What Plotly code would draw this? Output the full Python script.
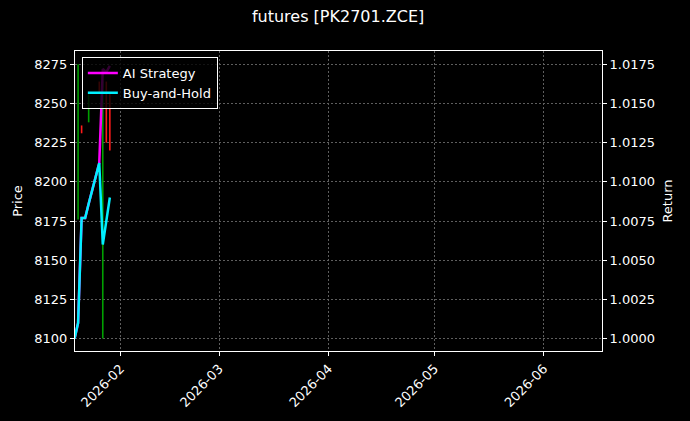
import plotly.graph_objects as go

# daily candles (only the bars visible in the chart)
CANDLE_DATES = ["2026-01-20", "2026-01-21", "2026-01-23", "2026-01-26",
                "2026-01-27", "2026-01-28", "2026-01-29"]
OPEN = [8178, 8235, 8240, 8263, 8105, 8262, 8252]
HIGH = [8275, 8236, 8256, 8264, 8264, 8264, 8256]
LOW = [8176, 8231, 8238, 8257, 8100, 8225, 8220]
CLOSE = [8270, 8232, 8250, 8258, 8262, 8232, 8228]

# cumulative return curves
RET_DATES = ["2026-01-19", "2026-01-20", "2026-01-21", "2026-01-22", "2026-01-23",
             "2026-01-26", "2026-01-27", "2026-01-28", "2026-01-29"]
AI_STRATEGY = [1.0000, 1.0010, 1.0077, 1.0077, 1.0086, 1.0112, 1.0172, 1.0170, 1.0174]
BUY_AND_HOLD = [1.0000, 1.0010, 1.0077, 1.0077, 1.0086, 1.0112, 1.0060, 1.0075, 1.0090]

PRICE_TICKS = [8100, 8125, 8150, 8175, 8200, 8225, 8250, 8275]
RETURN_TICKS = [1.0000, 1.0025, 1.0050, 1.0075, 1.0100, 1.0125, 1.0150, 1.0175]
X_TICKS = ["2026-02-01", "2026-03-01", "2026-04-01", "2026-05-01", "2026-06-01"]

FONT = "DejaVu Sans"
BG = "#000000"
GRID = "#5e5e5e"

fig = go.Figure()

# thin bars, like the very narrow candles of the original
fig.add_trace(go.Ohlc(
    x=CANDLE_DATES, open=OPEN, high=HIGH, low=LOW, close=CLOSE,
    increasing=dict(line=dict(color="#00a000", width=1.6)),
    decreasing=dict(line=dict(color="#ff1a1a", width=1.6)),
    tickwidth=0, showlegend=False, yaxis="y",
))

fig.add_trace(go.Scatter(
    x=RET_DATES, y=AI_STRATEGY, mode="lines", name="AI Strategy",
    line=dict(color="#ff00ff", width=2.5), yaxis="y2",
))
fig.add_trace(go.Scatter(
    x=RET_DATES, y=BUY_AND_HOLD, mode="lines", name="Buy-and-Hold",
    line=dict(color="#00f0ff", width=2.5), yaxis="y2",
))

fig.update_layout(
    width=690, height=421,
    margin=dict(l=75, r=88, t=51, b=70, autoexpand=False),
    paper_bgcolor=BG, plot_bgcolor=BG,
    font=dict(family=FONT, color="white", size=13),
    title=dict(text="futures [PK2701.ZCE]", x=0.49, xanchor="center",
               y=0.96, yanchor="middle", font=dict(size=16, color="white")),
    xaxis=dict(
        type="date", range=["2026-01-19 03:00", "2026-06-17 12:00"],
        tickvals=X_TICKS, tickformat="%Y-%m", tickangle=-45,
        ticks="outside", ticklen=4, tickcolor="white",
        showgrid=True, gridcolor=GRID, griddash="2px,2px", gridwidth=0.6,
        showline=True, linecolor="white", linewidth=1, mirror=True,
        rangeslider=dict(visible=False), zeroline=False,
    ),
    yaxis=dict(
        title=dict(text="Price", standoff=8, font=dict(size=13)),
        range=[8092.1, 8283.5],
        tickvals=PRICE_TICKS, ticks="outside", ticklen=4, tickcolor="white",
        showgrid=True, gridcolor=GRID, griddash="2px,2px", gridwidth=0.6,
        showline=True, linecolor="white", linewidth=1, mirror=True,
        zeroline=False,
    ),
    yaxis2=dict(
        title=dict(text="Return", standoff=8, font=dict(size=13)),
        range=[0.99921, 1.01835],
        overlaying="y", side="right", tickvals=RETURN_TICKS, tickformat=".4f",
        ticks="outside", ticklen=4, tickcolor="white",
        showgrid=False, zeroline=False,
    ),
    legend=dict(
        x=0.013, y=0.98, xanchor="left", yanchor="top",
        bgcolor="rgba(0,0,0,0.8)", bordercolor="white", borderwidth=1,
        font=dict(size=13, color="white"), tracegroupgap=0,
    ),
)

# drop the page margin so the figure sits at the window's top-left corner
fig.write_html(
    "out.html",
    config={"displayModeBar": False},
    post_script="document.body.style.margin='0';document.body.style.background='#000';",
)
